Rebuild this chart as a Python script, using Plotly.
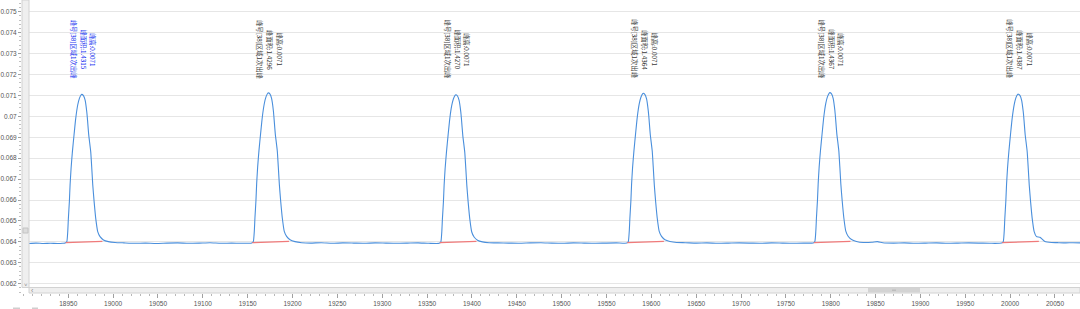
import plotly.graph_objects as go

# ---------------- data ----------------
base0_t = [18906, 18914, 18922, 18930, 18938, 18944]
base0_y = [0.06392, 0.06394, 0.06392, 0.06393, 0.06392, 0.06393]

peak1_t = [18946.5, 18948.3, 18949.4, 18950.1, 18951.2, 18952.0, 18953.1, 18954.6, 18956.4, 18958.3, 18960.5, 18962.4, 18964.2, 18965.0, 18966.9, 18968.7, 18970.6, 18971.3, 18972.8, 18975.0, 18976.2, 18977.3, 18978.8, 18980.6, 18982.8, 18985.4, 18989.2, 18994.7, 19002.2]
peak1_y = [0.06394, 0.06400, 0.06449, 0.06512, 0.06592, 0.06672, 0.06751, 0.06831, 0.06911, 0.06990, 0.07054, 0.07086, 0.07102, 0.07105, 0.07099, 0.07078, 0.07022, 0.06990, 0.06911, 0.06831, 0.06751, 0.06672, 0.06592, 0.06512, 0.06449, 0.06425, 0.06409, 0.06401, 0.06397]

base1_t = [19012, 19024, 19036, 19048, 19060, 19072, 19084, 19096, 19108, 19120, 19132, 19144]
base1_y = [0.06395, 0.06393, 0.06394, 0.06392, 0.06394, 0.06395, 0.06393, 0.06394, 0.06396, 0.06393, 0.06394, 0.06393]

peak2_t = [19154.5, 19156.3, 19157.4, 19158.1, 19159.2, 19160.0, 19161.1, 19162.6, 19164.4, 19166.3, 19168.5, 19170.4, 19172.2, 19173.0, 19174.9, 19176.7, 19178.6, 19179.3, 19180.8, 19183.0, 19184.2, 19185.3, 19186.8, 19188.6, 19190.8, 19193.4, 19197.2, 19202.7, 19210.2]
peak2_y = [0.06395, 0.06402, 0.06452, 0.06515, 0.06596, 0.06677, 0.06757, 0.06837, 0.06917, 0.06996, 0.07060, 0.07093, 0.07109, 0.07112, 0.07106, 0.07084, 0.07028, 0.06995, 0.06915, 0.06835, 0.06754, 0.06674, 0.06594, 0.06514, 0.06450, 0.06426, 0.06410, 0.06401, 0.06396]

base2_t = [19220, 19232, 19244, 19256, 19268, 19280, 19292, 19304, 19316, 19328, 19340, 19352]
base2_y = [0.06394, 0.06396, 0.06393, 0.06395, 0.06394, 0.06393, 0.06395, 0.06394, 0.06393, 0.06394, 0.06395, 0.06393]

peak3_t = [19363.5, 19365.3, 19366.4, 19367.1, 19368.2, 19369.0, 19370.1, 19371.6, 19373.4, 19375.3, 19377.5, 19379.4, 19381.2, 19382.0, 19383.9, 19385.7, 19387.6, 19388.3, 19389.8, 19392.0, 19393.2, 19394.3, 19395.8, 19397.6, 19399.8, 19402.4, 19406.2, 19411.7, 19419.2]
peak3_y = [0.06393, 0.06399, 0.06447, 0.06510, 0.06590, 0.06670, 0.06749, 0.06829, 0.06909, 0.06988, 0.07052, 0.07084, 0.07100, 0.07103, 0.07097, 0.07076, 0.07020, 0.06988, 0.06909, 0.06829, 0.06749, 0.06670, 0.06590, 0.06510, 0.06447, 0.06423, 0.06408, 0.06400, 0.06396]

base3_t = [19429, 19441, 19453, 19465, 19477, 19489, 19501, 19513, 19525, 19537, 19549, 19561]
base3_y = [0.06395, 0.06394, 0.06393, 0.06395, 0.06396, 0.06394, 0.06393, 0.06395, 0.06394, 0.06393, 0.06394, 0.06395]

peak4_t = [19572.5, 19574.3, 19575.4, 19576.1, 19577.2, 19578.0, 19579.1, 19580.6, 19582.4, 19584.3, 19586.5, 19588.4, 19590.2, 19591.0, 19592.9, 19594.7, 19596.6, 19597.3, 19598.8, 19601.0, 19602.2, 19603.3, 19604.8, 19606.6, 19608.8, 19611.4, 19615.2, 19620.7, 19628.2]
peak4_y = [0.06394, 0.06401, 0.06451, 0.06514, 0.06595, 0.06676, 0.06755, 0.06835, 0.06915, 0.06995, 0.07059, 0.07091, 0.07107, 0.07110, 0.07104, 0.07083, 0.07026, 0.06994, 0.06914, 0.06834, 0.06753, 0.06673, 0.06593, 0.06513, 0.06450, 0.06426, 0.06410, 0.06402, 0.06397]

base4_t = [19638, 19650, 19662, 19674, 19686, 19698, 19710, 19722, 19734, 19746, 19758, 19770]
base4_y = [0.06396, 0.06394, 0.06395, 0.06393, 0.06394, 0.06395, 0.06394, 0.06393, 0.06395, 0.06394, 0.06393, 0.06394]

peak5_t = [19780.5, 19782.3, 19783.4, 19784.1, 19785.2, 19786.0, 19787.1, 19788.6, 19790.4, 19792.3, 19794.5, 19796.4, 19798.2, 19799.0, 19800.9, 19802.7, 19804.6, 19805.3, 19806.8, 19809.0, 19810.2, 19811.3, 19812.8, 19814.6, 19816.8, 19819.4, 19823.2, 19828.7, 19836.2]
peak5_y = [0.06395, 0.06402, 0.06453, 0.06516, 0.06597, 0.06678, 0.06758, 0.06838, 0.06918, 0.06998, 0.07062, 0.07094, 0.07110, 0.07113, 0.07107, 0.07086, 0.07029, 0.06996, 0.06916, 0.06836, 0.06755, 0.06675, 0.06595, 0.06515, 0.06451, 0.06427, 0.06411, 0.06402, 0.06397]

base5_t = [19846, 19852, 19858, 19870, 19882, 19894, 19906, 19918, 19930, 19942, 19954, 19966, 19978]
base5_y = [0.06398, 0.06401, 0.06396, 0.06394, 0.06395, 0.06393, 0.06394, 0.06395, 0.06393, 0.06394, 0.06395, 0.06394, 0.06393]

peak6_t = [19990.5, 19992.3, 19993.4, 19994.1, 19995.2, 19996.0, 19997.1, 19998.6, 20000.4, 20002.3, 20004.5, 20006.4, 20008.2, 20009.0, 20010.9, 20012.7, 20014.6, 20015.3, 20016.8, 20019.0, 20020.2, 20021.3, 20022.8, 20024.6, 20026.8, 20029.4, 20033.2, 20038.7, 20046.2]
peak6_y = [0.06394, 0.06400, 0.06449, 0.06513, 0.06593, 0.06673, 0.06752, 0.06832, 0.06912, 0.06991, 0.07055, 0.07088, 0.07104, 0.07106, 0.07100, 0.07079, 0.07023, 0.06991, 0.06912, 0.06832, 0.06752, 0.06672, 0.06592, 0.06512, 0.06449, 0.06425, 0.06422, 0.06402, 0.06397]

base6_t = [20054, 20062, 20070, 20078]
base6_y = [0.06396, 0.06395, 0.06396, 0.06395]

# integration baselines (red)
red_start_t = [18947.2, 19155.2, 19364.2, 19573.2, 19781.2, 19991.2]
red_end_t = [18988.0, 19196.0, 19405.0, 19614.0, 19822.0, 20032.0]
red_start_y = [0.06396, 0.06396, 0.06396, 0.06396, 0.06396, 0.06396]
red_end_y = [0.06402, 0.06402, 0.06402, 0.06402, 0.06402, 0.06402]

# axis ticks
x_ticks = [18950, 19000, 19050, 19100, 19150, 19200, 19250, 19300, 19350, 19400, 19450, 19500,
           19550, 19600, 19650, 19700, 19750, 19800, 19850, 19900, 19950, 20000, 20050]

# peak labels
peak_label_t = [18965, 19173, 19382, 19591, 19799, 20009]
peak_names = ["峰号[38]区域1次出峰"] * 6
peak_areas = ["1.4315", "1.4296", "1.4270", "1.4364", "1.4367", "1.4387"]
peak_heights = ["0.0071", "0.0071", "0.0071", "0.0071", "0.0071", "0.0071"]
peak_label_colors = ["#1a35f0", "#3a3a3a", "#3a3a3a", "#3a3a3a", "#3a3a3a", "#3a3a3a"]

# ---------------- figure ----------------
time = (base0_t + peak1_t + base1_t + peak2_t + base2_t + peak3_t + base3_t
        + peak4_t + base4_t + peak5_t + base5_t + peak6_t + base6_t)
signal = (base0_y + peak1_y + base1_y + peak2_y + base2_y + peak3_y + base3_y
          + peak4_y + base4_y + peak5_y + base5_y + peak6_y + base6_y)

red_x, red_y = [], []
for a, b, ya, yb in zip(red_start_t, red_end_t, red_start_y, red_end_y):
    red_x += [a, b, None]
    red_y += [ya, yb, None]

fig = go.Figure()
fig.add_trace(go.Scatter(x=time, y=signal, mode="lines",
                         line=dict(color="#4a8fdc", width=1.1, shape="spline", smoothing=0.5),
                         hoverinfo="skip", showlegend=False))
fig.add_trace(go.Scatter(x=red_x, y=red_y, mode="lines",
                         line=dict(color="#f07a7a", width=1.3),
                         hoverinfo="skip", showlegend=False))

ann_font = "Noto Sans CJK SC"
label_y = 0.07319
for t, nm, ar, ht, col in zip(peak_label_t, peak_names, peak_areas, peak_heights, peak_label_colors):
    for txt, sh in ((nm, -8.8), ("峰面积:" + ar, 1.4), ("峰高:" + ht, 10.8)):
        fig.add_annotation(x=t, y=label_y, xref="x", yref="y", text=txt, showarrow=False,
                           textangle=90, xshift=sh, xanchor="center", yanchor="middle",
                           font=dict(family=ann_font, size=6.3, color=col))

# scrollbars (decorative frame of the original viewer)
PW, PH = 1058.0, 293.0
def px(xp):
    return (xp - 22) / PW
def py(yp):
    return (293 - yp) / PH

shapes = [
    dict(type="rect", xref="paper", yref="paper", x0=px(22), x1=px(29), y0=py(287.5), y1=1,
         fillcolor="#efefef", line=dict(color="#d2d2d2", width=1), layer="above"),
    dict(type="rect", xref="paper", yref="paper", x0=px(29), x1=1, y0=0, y1=py(287.5),
         fillcolor="#efefef", line=dict(color="#d2d2d2", width=1), layer="above"),
    dict(type="rect", xref="paper", yref="paper", x0=px(868), x1=px(920), y0=py(292.5), y1=py(288),
         fillcolor="#d3d3d3", line=dict(width=0), layer="above"),
    dict(type="rect", xref="paper", yref="paper", x0=px(892), x1=px(896), y0=py(291), y1=py(289.5),
         fillcolor="#bdbdbd", line=dict(width=0), layer="above"),
    dict(type="rect", xref="paper", yref="paper", x0=px(23), x1=px(28), y0=py(233), y1=py(228),
         fillcolor="#dcdcdc", line=dict(color="#c4c4c4", width=1), layer="above"),
    dict(type="rect", xref="paper", yref="paper", x0=px(13), x1=px(20), y0=py(309), y1=py(307.5),
         fillcolor="#cfcfcf", line=dict(width=0), layer="above"),
    dict(type="rect", xref="paper", yref="paper", x0=px(32), x1=px(38), y0=py(309), y1=py(307.5),
         fillcolor="#cfcfcf", line=dict(width=0), layer="above"),
]
fig.add_annotation(x=px(32.5), y=py(290.3), xref="paper", yref="paper", text="‹", showarrow=False,
                   font=dict(size=7, color="#888"), xanchor="center", yanchor="middle")
fig.add_annotation(x=px(25.5), y=py(284.5), xref="paper", yref="paper", text="˅", showarrow=False,
                   font=dict(size=6, color="#888"), xanchor="center", yanchor="middle")

fig.update_layout(
    width=1080, height=309,
    margin=dict(l=22, r=0, t=0, b=16, pad=0),
    paper_bgcolor="white", plot_bgcolor="white",
    shapes=shapes,
    font=dict(family="Liberation Sans", size=6.5, color="#555555"),
    xaxis=dict(range=[18898.4, 20077.9], tickmode="array", tickvals=x_ticks,
               ticktext=[str(v) for v in x_ticks],
               ticks="outside", ticklen=4, tickcolor="#a0a0a0", tickwidth=1,
               tickfont=dict(size=6.5, color="#555555"),
               showgrid=False, zeroline=False, showline=False,
               minor=dict(tickmode="linear", dtick=10, tick0=18900, ticks="outside", ticklen=2,
                          tickcolor="#b8b8b8", showgrid=False)),
    yaxis=dict(range=[0.061555, 0.075559], tickmode="linear", tick0=0.062, dtick=0.001,
               ticks="outside", ticklen=3, tickcolor="#a0a0a0", tickwidth=1,
               tickfont=dict(size=6.5, color="#555555"),
               showgrid=True, gridcolor="#e6e6e6", gridwidth=1,
               zeroline=False, showline=False,
               minor=dict(dtick=0.0002, tick0=0.062, ticks="outside", ticklen=2, tickcolor="#c0c0c0", showgrid=False)),
)

fig.write_html("out.html")
